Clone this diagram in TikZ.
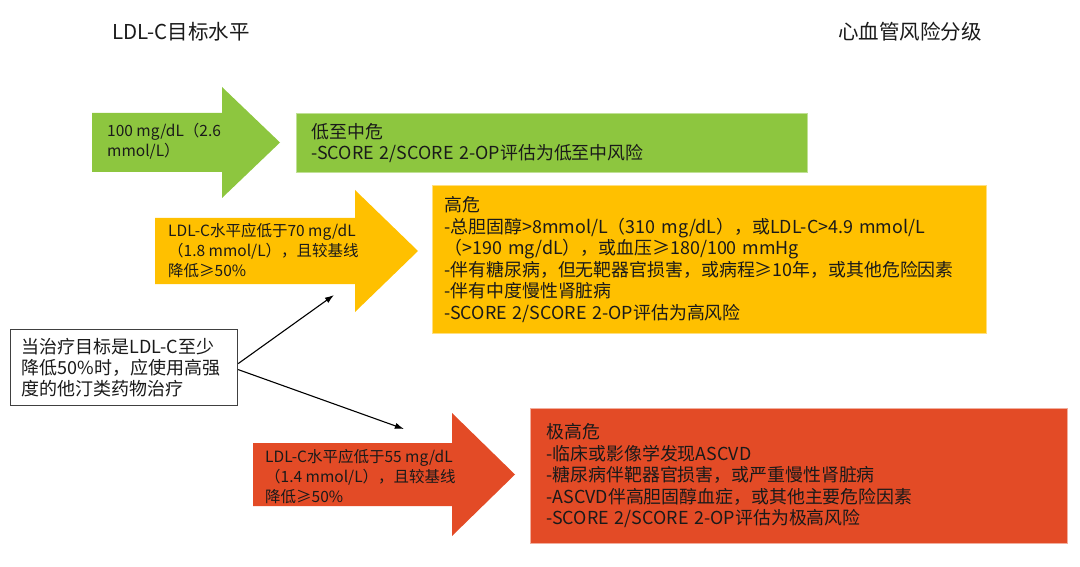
\documentclass[tikz,border=0pt]{standalone}
\usepackage{fontspec}
\setmainfont{Noto Sans CJK SC}
\usepackage{xcolor}
\usetikzlibrary{arrows.meta,positioning}
\definecolor{lowgreen}{HTML}{8DC63F}
\definecolor{highamber}{HTML}{FFC000}
\definecolor{veryred}{HTML}{E34B26}
\definecolor{inktext}{HTML}{1A1A1A}

\begin{document}
\begin{tikzpicture}[
  x=1pt, y=-1pt,
  heading/.style={anchor=west, inner sep=0pt, text=inktext,
    font=\fontsize{20.5}{24}\selectfont},
  riskbox/.style={anchor=north west, align=left, inner ysep=0pt, text=inktext,
    font=\fontsize{17.9}{21.5}\selectfont},
  lowbox/.style={riskbox, fill=lowgreen, draw=lowgreen!55!white, line width=0.8pt},
  highbox/.style={riskbox, fill=highamber, draw=highamber!50!white, line width=0.8pt},
  vhighbox/.style={riskbox, fill=veryred, draw=veryred!45!white, line width=0.8pt},
  goal/.style={anchor=west, align=left, inner sep=0pt, text=inktext,
    font=\fontsize{15.5}{20}\selectfont},
  notebox/.style={anchor=north west, align=left, draw=black!75, line width=1.2pt,
    fill=white, inner ysep=0pt, text=inktext, font=\fontsize{18}{21}\selectfont},
  link/.style={-{Latex[length=3.2mm,width=2.2mm]}, line width=1.1pt, black}]

  \useasboundingbox (0,0) rectangle (1080,567);

  % column headings
  \node[heading] (goalhead) at (112,32) {LDL-C目标水平};
  \node[heading] (riskhead) at (838,32) {心血管风险分级};

  % big block arrows
  \fill[lowgreen] (92,113) -- (222,113) -- (222,87) -- (280,142.5) -- (222,198)
    -- (222,172) -- (92,172) -- cycle;
  \fill[highamber] (155,218) -- (355,218) -- (355,190) -- (418,251) -- (355,312)
    -- (355,284) -- (155,284) -- cycle;
  \fill[veryred] (253,443) -- (452,443) -- (452,413) -- (515,474.5) -- (452,536)
    -- (452,506) -- (253,506) -- cycle;

  \node[goal] (lowgoal) at (107,141) {100 mg/dL（2.6\\mmol/L）};
  \node[goal] (highgoal) at (168,251) {LDL-C水平应低于70 mg/dL\\（1.8 mmol/L），且较基线\\降低≥50\%};
  \node[goal] (vhighgoal) at (265,476.5) {LDL-C水平应低于55 mg/dL\\（1.4 mmol/L），且较基线\\降低≥50\%};

  % risk categories
  \node[lowbox, minimum width=511, minimum height=59, text width=481, inner xsep=15]
    (low) at (296,113) {低至中危\\-SCORE 2/SCORE 2-OP评估为低至中风险};
  \node[highbox, minimum width=554, minimum height=148, text width=530, inner xsep=12]
    (high) at (432,185) {高危\\-总胆固醇>8mmol/L（310 mg/dL），或LDL-C>4.9 mmol/L\\（>190 mg/dL），或血压≥180/100 mmHg\\-伴有糖尿病，但无靶器官损害，或病程≥10年，或其他危险因素\\-伴有中度慢性肾脏病\\-SCORE 2/SCORE 2-OP评估为高风险};
  \node[vhighbox, minimum width=537, minimum height=135, text width=505, inner xsep=16]
    (vhigh) at (530,408) {极高危\\-临床或影像学发现ASCVD\\-糖尿病伴靶器官损害，或严重慢性肾脏病\\-ASCVD伴高胆固醇血症，或其他主要危险因素\\-SCORE 2/SCORE 2-OP评估为极高风险};

  % note on statin intensity
  \node[notebox, minimum width=227, minimum height=76, text width=205, inner xsep=11]
    (statin) at (10,329) {当治疗目标是LDL-C至少\\降低50\%时，应使用高强\\度的他汀类药物治疗};

  \coordinate (toHigh) at (334,295);
  \coordinate (toVhigh) at (404,429);
  \draw[link] ([yshift=4pt]statin.east) -- (toHigh);
  \draw[link] ([yshift=-2pt]statin.east) -- (toVhigh);
\end{tikzpicture}
\end{document}
